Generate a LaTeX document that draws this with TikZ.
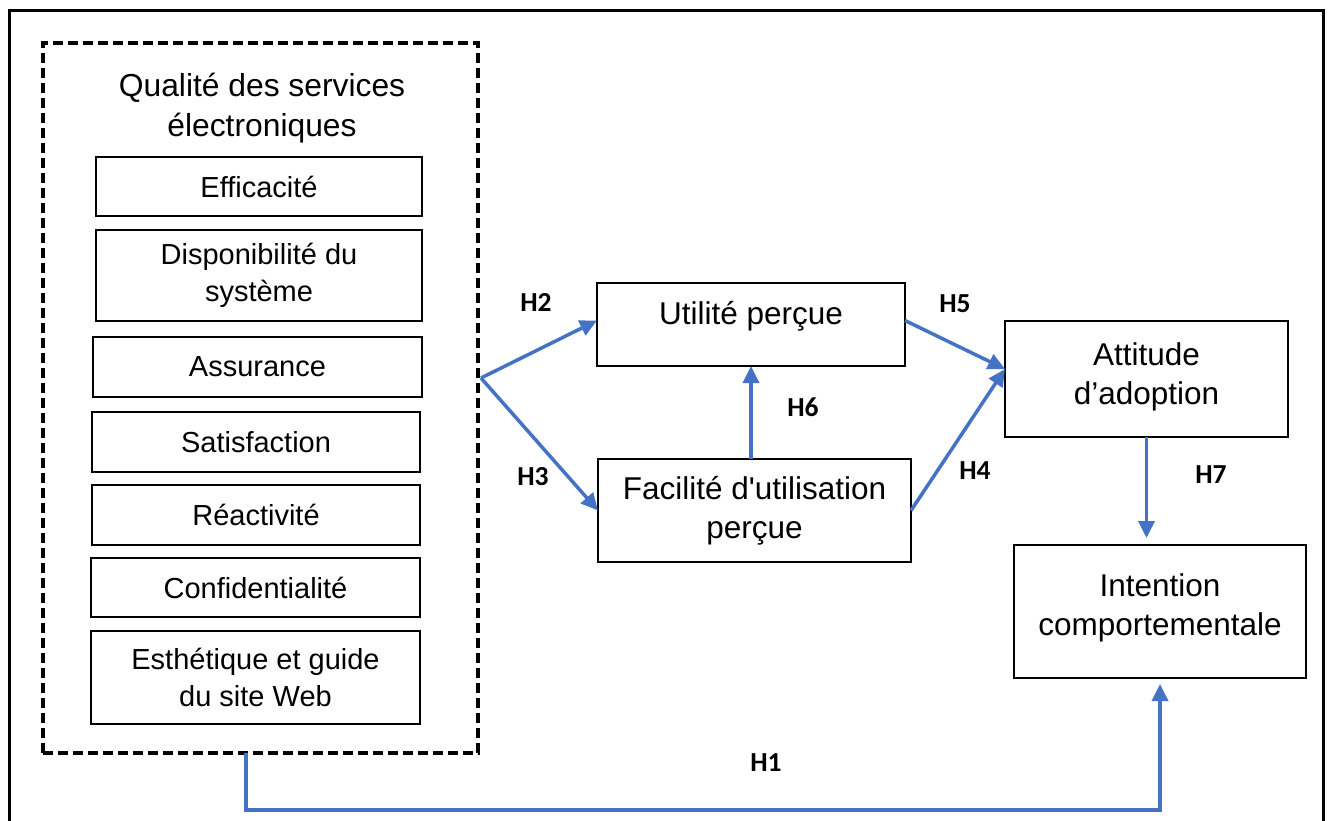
\documentclass[tikz,border=0pt]{standalone}
\usepackage{fontspec}
\setmainfont{Liberation Sans}
\newfontfamily\labfont{Carlito}
\usetikzlibrary{arrows.meta}
\definecolor{arrblue}{RGB}{68,114,196}
\begin{document}
\begin{tikzpicture}[x=1pt,y=-1pt,
  box/.style={draw, line width=2.6pt, inner sep=0pt, outer sep=0pt, align=center},
  small/.style={box, font=\fontsize{29}{37}\selectfont},
  big/.style={box, font=\fontsize{31.5}{39}\selectfont},
  hyp/.style={font=\labfont\bfseries\fontsize{27.5}{30}\selectfont},
  conn/.style={draw=arrblue, line width=3.5pt, -{Triangle[length=17pt,width=16pt]}}]
\useasboundingbox (0,0) rectangle (1329,820);
\draw[line width=3pt] (9,830) -- (9,10) -- (1323,10) -- (1323,830);

% left group
\node[draw, dash pattern=on 10pt off 5pt, line width=3.5pt, minimum width=435pt, minimum height=710pt, inner sep=0pt, outer sep=0pt] (qual) at (260.5,398) {};
\node[font=\fontsize{31.8}{40}\selectfont, align=center] (qtitle) at (262,108) {Qualité des services\\électroniques};
\node[small, minimum width=326pt, minimum height=59pt] (eff) at (259,186.5) {Efficacité};
\node[small, minimum width=326pt, minimum height=91pt] (dispo) at (259,275.5) {Disponibilité du\\système};
\node[small, minimum width=329pt, minimum height=60pt] (assur) at (257.5,367) {Assurance};
\node[small, minimum width=328pt, minimum height=60pt] (satis) at (256,442) {Satisfaction};
\node[small, minimum width=328pt, minimum height=60pt] (react) at (256,515) {Réactivité};
\node[small, minimum width=329pt, minimum height=59pt] (confid) at (255.5,587.5) {Confidentialité};
\node[small, minimum width=329pt, minimum height=93pt] (esth) at (255.5,677.5) {Esthétique et guide\\du site Web};

% main constructs
\node[big, minimum width=308pt, minimum height=83pt, text depth=24pt] (util) at (751,324.5) {Utilité perçue};
\node[big, minimum width=313pt, minimum height=103pt] (fac) at (754.5,510.5) {Facilité d\textquotesingle utilisation\\perçue};
\node[big, minimum width=283pt, minimum height=116pt, text depth=11pt] (att) at (1146.5,379) {Attitude\\d’adoption};
\node[big, minimum width=292pt, minimum height=133pt, text depth=14pt] (int) at (1160,611.5) {Intention\\comportementale};

% connectors
\coordinate (qs) at (481,378);
\draw[conn] (qs) -- ([yshift=4pt]util.west);
\draw[conn] (qs) -- (fac.west);
\draw[conn] (util.south |- fac.north) -- (util.south);
\draw[conn] ([yshift=4pt]util.east) -- ([yshift=10pt]att.west);
\draw[conn] (fac.east) -- ([yshift=10pt]att.west);
\draw[conn, shorten >=7pt] (att.south) -- (att.south |- int.north);
\draw[conn] ([xshift=-14.5pt]qual.south) -- ++(0,57) -| ([yshift=-6pt]int.south);

% labels
\node[hyp] (h2) at (536,302) {H2};
\node[hyp] (h3) at (533,477) {H3};
\node[hyp] (h6) at (803,407) {H6};
\node[hyp] (h5) at (955,304) {H5};
\node[hyp] (h4) at (975,471) {H4};
\node[hyp] (h7) at (1211,475) {H7};
\node[hyp] (h1) at (766,763) {H1};
\end{tikzpicture}
\end{document}
